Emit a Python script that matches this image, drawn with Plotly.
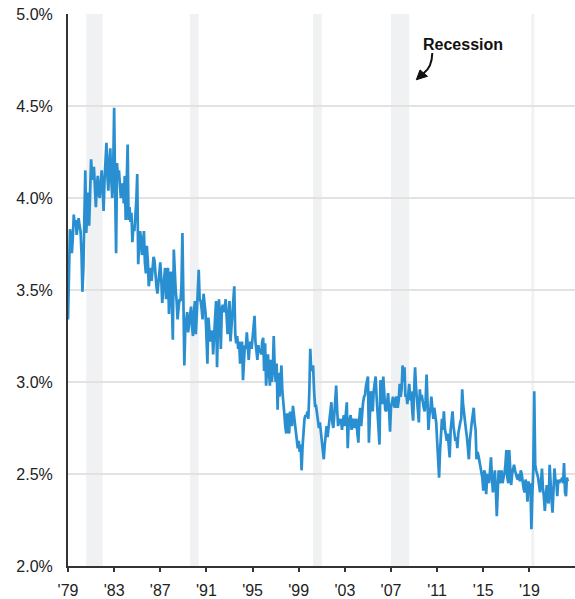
import pandas as pd
import plotly.graph_objects as go

# Monthly rate (%), starting December 1979
start_month = "1979-12-01"
rate_1980s = [
    3.34, 3.55, 3.83, 3.80, 3.70, 3.78, 3.91, 3.85, 3.88, 3.80, 3.86, 3.89,
    3.85, 3.82, 3.70, 3.49, 3.62, 3.90, 4.15, 3.81, 3.95, 4.03, 3.85, 4.05,
    4.21, 4.12, 4.10, 4.17, 4.05, 3.95, 4.06, 4.12, 4.02, 4.00, 4.08, 4.15,
    4.05, 3.93, 4.10, 4.18, 4.30, 4.12, 4.04, 4.20, 4.27, 4.10, 4.00, 4.15,
    4.49, 4.05, 3.70, 4.19, 4.10, 4.15, 4.06, 4.00, 4.05, 4.08, 3.97, 4.12,
    3.88, 4.05, 4.29, 3.88, 3.95, 3.87, 3.92, 3.76, 3.85, 3.82, 3.90, 3.98,
    4.13, 3.64, 3.75, 3.82, 3.78, 3.69, 3.74, 3.82, 3.65, 3.59, 3.74, 3.66,
    3.52, 3.58, 3.62, 3.55, 3.60, 3.68, 3.66, 3.58, 3.52, 3.48, 3.55, 3.60,
    3.65, 3.56, 3.43, 3.50, 3.58, 3.62, 3.45, 3.60, 3.62, 3.37, 3.52, 3.60,
    3.44, 3.23, 3.72, 3.55, 3.50, 3.44, 3.34, 3.40, 3.45, 3.44, 3.52, 3.81,
]
rate_1990s = [
    3.45, 3.09, 3.30, 3.35, 3.38, 3.27, 3.33, 3.36, 3.41, 3.30, 3.25, 3.38,
    3.44, 3.26, 3.40, 3.50, 3.61, 3.45, 3.44, 3.40, 3.34, 3.48, 3.42, 3.38,
    3.25, 3.10, 3.35, 3.30, 3.22, 3.26, 3.28, 3.15, 3.30, 3.35, 3.44, 3.08,
    3.30, 3.45, 3.35, 3.18, 3.40, 3.42, 3.38, 3.40, 3.45, 3.32, 3.26, 3.35,
    3.44, 3.22, 3.30, 3.35, 3.40, 3.52, 3.26, 3.21, 3.25, 3.18, 3.22, 3.10,
    3.15, 3.22, 3.01, 3.15, 3.20, 3.18, 3.27, 3.20, 3.12, 3.20, 3.22, 3.18,
    3.24, 3.30, 3.36, 3.22, 3.15, 3.12, 3.20, 3.16, 3.18, 3.15, 3.22, 3.24,
    3.06, 3.21, 2.98, 3.10, 3.15, 3.07, 2.98, 3.12, 3.00, 3.06, 3.25, 3.08,
    3.00, 3.10, 2.85, 3.05, 2.92, 2.98, 3.09, 2.95, 2.90, 2.83, 2.76, 2.72,
    2.83, 2.78, 2.72, 2.84, 2.80, 2.76, 2.87, 2.82, 2.78, 2.74, 2.70, 2.64,
]
rate_2000s = [
    2.68, 2.62, 2.66, 2.52, 2.65, 2.74, 2.80, 2.82, 2.81, 2.84, 2.80, 2.95,
    3.18, 3.06, 3.08, 3.09, 2.95, 2.87, 2.87, 2.82, 2.80, 2.75, 2.78, 2.72,
    2.69, 2.64, 2.58, 2.65, 2.72, 2.76, 2.70, 2.75, 2.78, 2.82, 2.89, 2.78,
    2.75, 2.82, 2.90, 2.98, 2.85, 2.76, 2.80, 2.77, 2.80, 2.74, 2.79, 2.82,
    2.76, 2.82, 2.89, 2.64, 2.78, 2.80, 2.82, 2.74, 2.79, 2.80, 2.75, 2.78,
    2.80, 2.72, 2.67, 2.80, 2.86, 2.76, 2.84, 2.89, 2.92, 2.93, 2.98, 3.02,
    3.03, 2.67, 2.90, 2.95, 2.88, 2.84, 2.95, 3.00, 3.03, 2.92, 2.85, 2.78,
    2.66, 3.01, 2.95, 2.88, 3.03, 2.90, 2.85, 2.84, 2.88, 2.94, 2.85, 2.73,
    2.86, 2.90, 2.92, 2.88, 2.86, 2.91, 2.92, 2.86, 2.90, 2.99, 2.92, 2.96,
    3.09, 3.00, 3.08, 2.92, 2.93, 2.88, 2.96, 2.99, 2.90, 2.95, 2.85, 2.79,
]
rate_2010s = [
    2.95, 3.08, 2.97, 2.90, 2.82, 2.78, 2.96, 2.90, 2.93, 2.88, 2.86, 2.84,
    2.90, 3.04, 2.88, 2.74, 2.82, 2.85, 2.92, 2.86, 2.80, 2.86, 2.82, 2.78,
    2.68, 2.57, 2.48, 2.62, 2.72, 2.80, 2.74, 2.84, 2.75, 2.72, 2.68, 2.72,
    2.64, 2.59, 2.74, 2.78, 2.84, 2.76, 2.72, 2.68, 2.70, 2.64, 2.72, 2.76,
    2.78, 2.80, 2.96, 2.88, 2.82, 2.76, 2.74, 2.70, 2.64, 2.58, 2.68, 2.76,
    2.78, 2.82, 2.86, 2.78, 2.74, 2.58, 2.62, 2.60, 2.57, 2.55, 2.52, 2.48,
    2.41, 2.52, 2.50, 2.39, 2.48, 2.50, 2.45, 2.52, 2.59, 2.48, 2.40, 2.46,
    2.52, 2.42, 2.27, 2.40, 2.52, 2.45, 2.47, 2.52, 2.45, 2.48, 2.50, 2.55,
    2.63, 2.48, 2.45, 2.63, 2.52, 2.44, 2.50, 2.53, 2.55, 2.52, 2.49, 2.48,
    2.47, 2.50, 2.46, 2.52, 2.50, 2.45, 2.42, 2.40, 2.47, 2.44, 2.35, 2.46,
]
rate_2020s = [
    2.42, 2.45, 2.20, 2.38, 2.52, 2.95, 2.55, 2.52, 2.50, 2.48, 2.44, 2.40,
    2.45, 2.53, 2.42, 2.38, 2.30, 2.37, 2.44, 2.36, 2.34, 2.55, 2.42, 2.36,
    2.29, 2.40, 2.53, 2.47, 2.46, 2.38, 2.47, 2.45, 2.47, 2.46, 2.48, 2.45,
    2.56, 2.40, 2.38, 2.48, 2.46,
]
rate = rate_1980s + rate_1990s + rate_2000s + rate_2010s + rate_2020s
months = pd.date_range(start_month, periods=len(rate), freq="MS")

# Recession periods (start, end)
recessions = [
    ("1981-07-01", "1982-12-01"),
    ("1990-07-01", "1991-04-01"),
    ("2001-03-01", "2001-12-01"),
    ("2007-12-01", "2009-07-01"),
    ("2020-02-01", "2020-05-01"),
]

tick_years = list(range(1979, 2020, 4))
tick_vals = [f"{y}-12-01" for y in tick_years]
tick_text = [f"'{y % 100:02d}" for y in tick_years]

FONT = "Liberation Sans, Arial, Helvetica, sans-serif"
W, H = 575, 599
ML, MR, MT, MB = 68, 0, 14, 27
PW, PH = W - ML - MR, H - MT - MB


def px(x, y):
    """Convert page pixels to paper coordinates."""
    return (x - ML) / PW, (H - MB - y) / PH


fig = go.Figure()
fig.add_trace(go.Scatter(
    x=months, y=rate, mode="lines",
    line=dict(color="#2a8fd0", width=2.7),
    hoverinfo="x+y",
))

shapes = []
for a, b in recessions:
    shapes.append(dict(
        type="rect", xref="x", yref="paper", x0=a, x1=b, y0=0, y1=1,
        fillcolor="#f0f1f3", line=dict(width=0), layer="below",
    ))

# Curved pointer from the "Recession" label
sx, sy = px(432.3, 53.5)
cx, cy = px(432.0, 68.0)
ex, ey = px(423.5, 74.0)
shapes.append(dict(
    type="path", xref="paper", yref="paper",
    path=f"M {sx},{sy} Q {cx},{cy} {ex},{ey}",
    line=dict(color="#111", width=2),
))
t1 = px(416.3, 80.5)
t2 = px(420.0, 70.5)
t3 = px(427.5, 77.0)
shapes.append(dict(
    type="path", xref="paper", yref="paper",
    path=f"M {t1[0]},{t1[1]} L {t2[0]},{t2[1]} L {t3[0]},{t3[1]} Z",
    fillcolor="#111", line=dict(color="#111", width=1),
))

lx, ly = px(463, 45)
fig.update_layout(
    width=W, height=H,
    margin=dict(l=ML, r=MR, t=MT, b=MB),
    paper_bgcolor="white", plot_bgcolor="white",
    showlegend=False,
    font=dict(family=FONT, size=16, color="#222"),
    shapes=shapes,
    annotations=[dict(
        x=lx, y=ly, xref="paper", yref="paper", text="<b>Recession</b>",
        showarrow=False, xanchor="center", yanchor="middle",
        font=dict(family=FONT, size=16, color="#111"),
    )],
    xaxis=dict(
        type="date", range=["1979-12-01", "2023-11-13"],
        tickvals=tick_vals, ticktext=tick_text,
        ticks="outside", ticklen=4, tickwidth=1.5, tickcolor="#333",
        showline=True, linecolor="#333", linewidth=2,
        showgrid=False, zeroline=False, ticklabelstandoff=5,
    ),
    yaxis=dict(
        range=[2.0, 5.0], dtick=0.5, tickformat=".1f", ticksuffix="%",
        showline=True, linecolor="#333", linewidth=2,
        showgrid=True, gridcolor="#e2e2e2", gridwidth=1.5,
        zeroline=False, ticks="", ticklabelstandoff=10,
    ),
)

fig.write_html("out.html")
